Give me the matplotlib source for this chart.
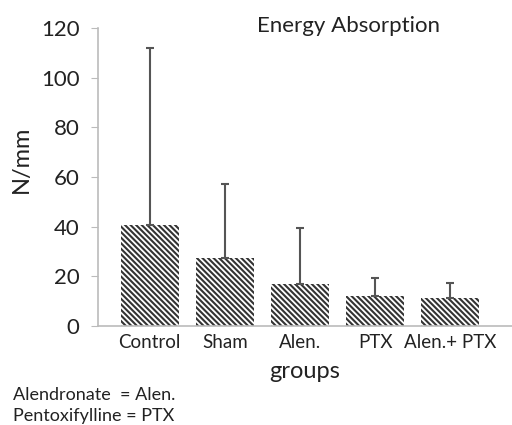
import numpy as np
import matplotlib.pyplot as plt

# data
groups = ["Control", "Sham", "Alen.", "PTX", "Alen.+ PTX"]
means = [40.5, 27.3, 16.8, 12.1, 11.2]
sd_upper = [71.5, 29.8, 22.6, 7.4, 6.3]
yticks = [0, 20, 40, 60, 80, 100, 120]

plt.rcParams["font.family"] = ["Lato", "DejaVu Sans"]
plt.rcParams["hatch.linewidth"] = 1.5
plt.rcParams["hatch.color"] = "#333333"

fig = plt.figure(figsize=(5.12, 4.25), dpi=100)
ax = fig.add_axes([0.191, 0.233, 0.809, 0.701])

x = np.arange(len(groups))
ax.bar(x, means, width=0.77, color="white", hatch="\\" * 6,
       edgecolor="#333333", linewidth=0)
ax.errorbar(x, means, yerr=[np.zeros(len(means)), sd_upper], fmt="none",
            ecolor="#555555", elinewidth=1.5, capsize=3, capthick=1.5)

ax.set_ylim(0, 120)
ax.set_xlim(-0.69, 4.82)
ax.set_yticks(yticks)
ax.set_xticks(x)
ax.set_xticklabels(groups, fontsize=13.5, color="#222222")
ax.tick_params(axis="y", labelsize=16, colors="#222222", length=5,
               color="#bbbbbb", pad=8)
ax.tick_params(axis="x", length=0, pad=6)

for s in ["top", "right"]:
    ax.spines[s].set_visible(False)
for s in ["left", "bottom"]:
    ax.spines[s].set_color("#bbbbbb")
    ax.spines[s].set_linewidth(1.2)

ax.set_ylabel("N/mm", fontsize=17, color="#222222")
ax.yaxis.set_label_coords(-0.16, 0.56)
ax.set_xlabel("groups", fontsize=17, color="#222222", labelpad=7)

fig.text(0.68, 0.94, "Energy Absorption", fontsize=16, color="#222222",
         ha="center", va="center")
fig.text(0.025, 0.071, "Alendronate  = Alen.", fontsize=13, color="#222222",
         ha="left", va="center")
fig.text(0.025, 0.022, "Pentoxifylline = PTX", fontsize=13, color="#222222",
         ha="left", va="center")

fig.savefig("out.png", dpi=100)
